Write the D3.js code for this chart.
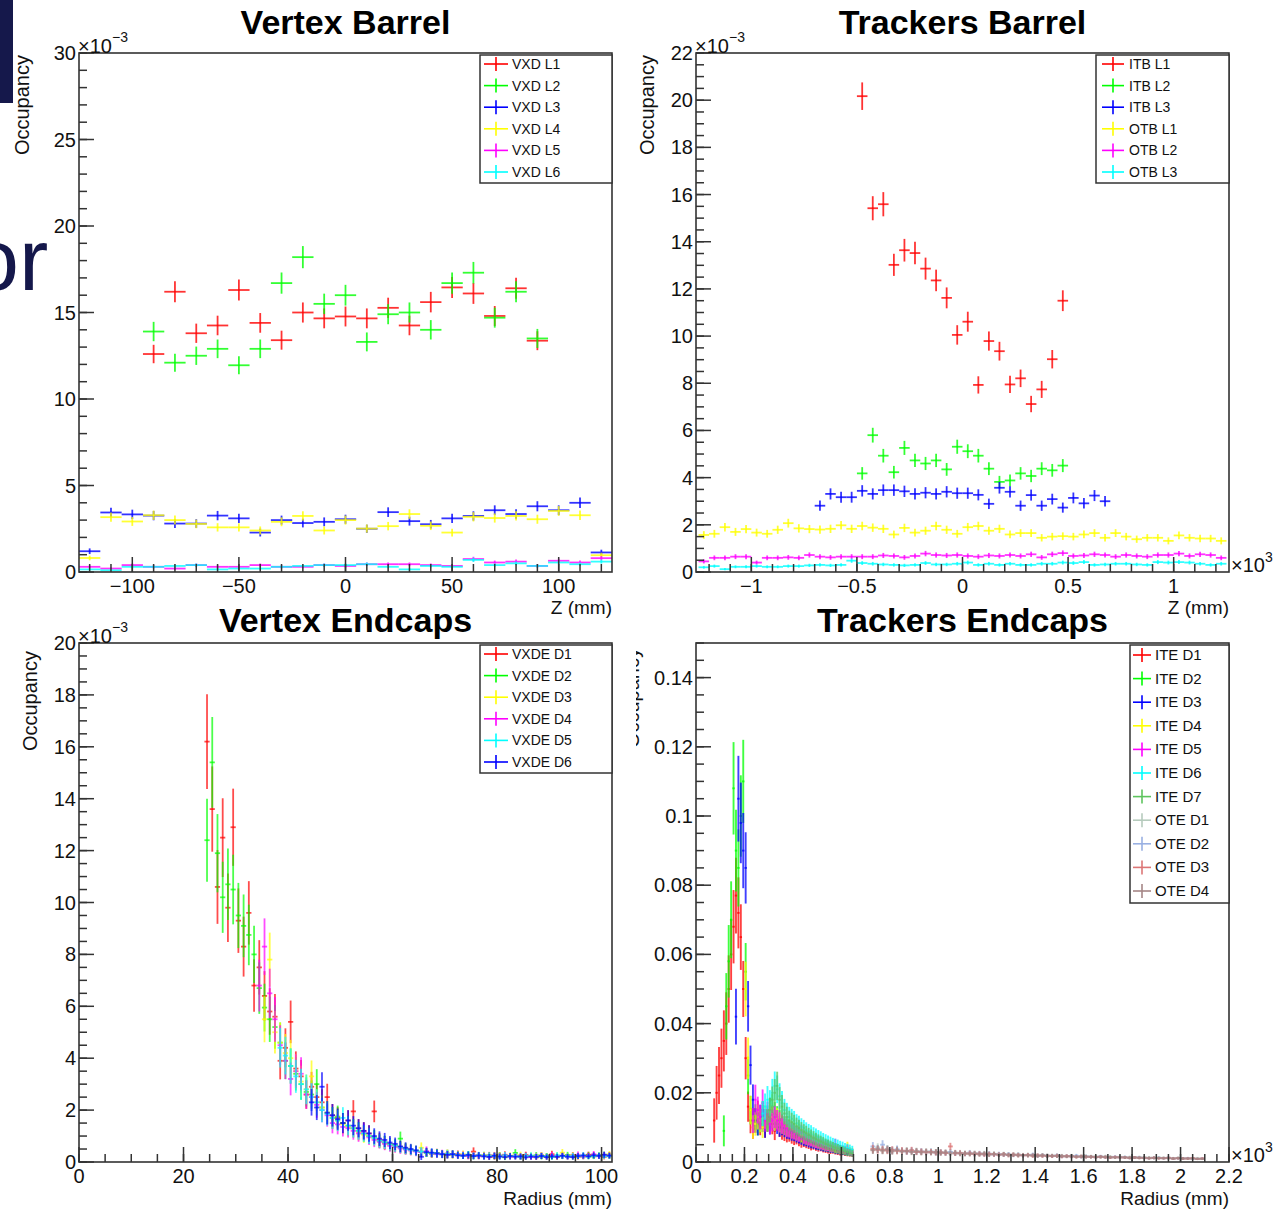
<!DOCTYPE html>
<html>
<head>
<meta charset="UTF-8">
<script src="https://d3js.org/d3.v7.min.js"></script>
<title>Occupancy</title>
<style>
  body { margin: 0; background: #fff; }
  svg { display: block; font-family: "Liberation Sans", Arial, Helvetica, sans-serif; }
</style>
</head>
<body>
<svg id="fig" width="1274" height="1210"></svg>
<script>
// ---------------- data ----------------
var rootColors = ["#ff0000", "#00ff00", "#0000ff", "#ffff00", "#ff00ff", "#00ffff"];

// Vertex Barrel (x 1e-3), bins 10 mm
var vxdNames = ["VXD L1", "VXD L2", "VXD L3", "VXD L4", "VXD L5", "VXD L6"];
var vxdZInner = [-90,-80,-70,-60,-50,-40,-30,-20,-10,0,10,20,30,40,50,60,70,80,90];
var vxdZOuter = [-120,-110,-100,-90,-80,-70,-60,-50,-40,-30,-20,-10,0,10,20,30,40,50,60,70,80,90,100,110,120];
var vxdL1 = [12.6,16.2,13.8,14.25,16.3,14.4,13.4,15.0,14.66,14.77,14.66,15.27,14.25,15.6,16.45,16.1,14.8,16.4,13.37];
var vxdL2 = [13.9,12.1,12.5,12.9,11.95,12.9,16.7,18.2,15.5,16.0,13.3,14.9,15.0,14.0,16.7,17.3,14.7,16.2,13.5];
var vxdL3 = [1.2,3.44,3.33,3.26,2.8,2.8,3.26,3.1,2.28,3.0,2.83,2.9,3.05,2.5,3.46,2.94,2.76,3.1,3.24,3.57,3.35,3.8,3.57,4.0,1.13];
var vxdL4 = [0.81,3.17,2.92,3.28,3.0,2.78,2.58,2.58,2.4,2.9,3.24,2.4,3.0,2.51,2.65,3.35,2.67,2.28,3.19,3.12,3.24,3.05,3.53,3.28,0.97];
var vxdL5 = [0.3,0.2,0.4,0.3,0.2,0.4,0.3,0.3,0.4,0.3,0.3,0.4,0.35,0.45,0.45,0.45,0.4,0.35,0.75,0.55,0.6,0.35,0.65,0.55,0.8];
var vxdL6 = [0.15,0.1,0.3,0.3,0.35,0.4,0.15,0.2,0.2,0.3,0.35,0.4,0.4,0.45,0.3,0.15,0.35,0.3,0.7,0.4,0.5,0.35,0.55,0.45,0.6];

// Trackers Barrel (x 1e-3), Z in 1e3 mm, bins 0.05
var trkNames = ["ITB L1", "ITB L2", "ITB L3", "OTB L1", "OTB L2", "OTB L3"];
var trkStart = [-0.5, -0.5, -0.7, -1.25, -1.25, -1.25];
var trkBin = 0.05;
var itbL1 = [20.17,15.42,15.59,13.02,13.64,13.52,12.86,12.36,11.62,10.05,10.61,7.93,9.79,9.36,7.95,8.21,7.12,7.74,9.02,11.5];
var itbL2 = [4.18,5.8,4.93,4.23,5.26,4.73,4.6,4.73,4.35,5.31,5.12,4.93,4.38,3.82,3.88,4.18,4.07,4.38,4.31,4.51];
var itbL3 = [2.81,3.31,3.17,3.17,3.44,3.31,3.47,3.47,3.42,3.31,3.36,3.31,3.4,3.34,3.34,3.27,2.89,3.57,3.4,2.81,3.26,2.81,3.09,2.73,3.14,2.91,3.24,3.0];
var otbL1 = [1.57,1.62,1.90,1.70,1.82,1.67,1.62,1.79,2.07,1.85,1.82,1.80,1.83,1.98,1.83,1.95,1.88,1.83,1.59,1.87,1.67,1.75,1.95,1.79,1.62,1.90,1.95,1.75,1.83,1.59,1.65,1.65,1.45,1.50,1.52,1.50,1.59,1.65,1.45,1.65,1.50,1.39,1.45,1.45,1.32,1.55,1.45,1.42,1.42,1.32];
var otbL2 = [0.45,0.6,0.6,0.65,0.65,0.4,0.6,0.6,0.62,0.6,0.72,0.65,0.62,0.65,0.65,0.65,0.65,0.7,0.68,0.62,0.68,0.78,0.72,0.7,0.72,0.68,0.65,0.7,0.68,0.72,0.68,0.75,0.62,0.75,0.8,0.68,0.7,0.75,0.72,0.65,0.72,0.68,0.65,0.72,0.72,0.78,0.68,0.75,0.72,0.6];
var otbL3 = [0.2,0.25,0.12,0.22,0.22,0.25,0.22,0.22,0.25,0.25,0.28,0.3,0.28,0.3,0.48,0.38,0.35,0.32,0.3,0.28,0.3,0.38,0.32,0.32,0.35,0.4,0.3,0.35,0.3,0.35,0.3,0.3,0.35,0.35,0.4,0.38,0.42,0.3,0.32,0.35,0.35,0.32,0.3,0.42,0.4,0.42,0.4,0.35,0.3,0.35];

// Vertex Endcaps (x 1e-3), radius in mm, bins 1 mm
var vxdeNames = ["VXDE D1", "VXDE D2", "VXDE D3", "VXDE D4", "VXDE D5", "VXDE D6"];
var vxdeColors = ["#ff0000", "#00ff00", "#ffff00", "#ff00ff", "#00ffff", "#0000ff"];
var vxdeStart = [24, 24, 35, 34, 38, 44];
var vxdeBin = 1;
var vxdeD1 = [16.2,13.6,10.6,12.5,9.8,12.9,9.3,8.3,9.6,6.8,7.5,6.4,5.8,5.6,3.9,4.4,5.4,3.6,3.3,2.6,2.9,2.5,2.3,2.5,1.8,1.7,1.5,1.6,1.95,1.3,1.2,1.1,1.95,0.85,0.75,0.7,0.62,0.58,0.5,0.46,0.42,0.38,0.36,0.33,0.35,0.3,0.32,0.28,0.3,0.26,0.24,0.4,0.25,0.22,0.26,0.2,0.24,0.28,0.21,0.25,0.2,0.27,0.23,0.18,0.25,0.22,0.3,0.2,0.24,0.21,0.26,0.2,0.23,0.28,0.22,0.25,0.2,0.27];
var vxdeD2 = [12.4,15.4,11.9,10.2,10.7,10.5,9.5,9.1,8.75,8.0,6.7,5.95,5.5,5.2,4.6,3.9,3.7,3.4,3.0,2.7,2.6,3.0,2.1,1.9,1.7,1.75,1.5,1.4,1.3,1.2,1.1,1.0,0.95,0.8,0.75,0.68,0.65,0.9,0.52,0.48,0.44,0.4,0.36,0.32,0.34,0.3,0.28,0.31,0.27,0.25,0.28,0.22,0.24,0.26,0.2,0.23,0.25,0.18,0.22,0.35,0.2,0.24,0.21,0.26,0.2,0.23,0.19,0.25,0.22,0.27,0.2,0.24,0.21,0.26,0.22,0.25,0.28,0.22];
var vxdeD3 = [5.5,7.8,5.0,4.6,4.2,4.0,3.5,3.1,2.8,3.3,2.3,2.1,1.9,1.7,1.6,1.45,1.35,1.3,1.15,1.05,1.0,0.9,0.8,0.72,0.66,0.6,0.55,0.5,0.45,0.42,0.55,0.36,0.34,0.32,0.3,0.33,0.28,0.26,0.3,0.25,0.27,0.23,0.25,0.22,0.26,0.24,0.21,0.25,0.22,0.27,0.2,0.24,0.22,0.26,0.21,0.24,0.2,0.36,0.22,0.25,0.21,0.24,0.2,0.26,0.23,0.25,0.3];
var vxdeD4 = [6.8,8.3,6.5,5.5,4.5,3.9,3.2,3.5,3.4,2.6,2.5,2.2,2.0,1.8,1.5,1.45,1.35,1.3,1.2,1.1,1.15,0.95,0.85,0.78,0.7,0.62,0.58,0.52,0.48,0.44,0.4,0.38,0.42,0.33,0.3,0.32,0.28,0.3,0.25,0.27,0.23,0.26,0.22,0.24,0.2,0.25,0.22,0.26,0.2,0.23,0.21,0.25,0.19,0.22,0.24,0.2,0.26,0.22,0.24,0.2,0.23,0.28,0.21,0.24,0.3,0.22,0.26,0.24];
var vxdeD5 = [4.4,4.1,3.7,3.3,3.0,2.8,2.5,2.3,2.0,1.85,1.7,1.6,1.7,1.4,1.3,1.2,1.1,1.0,0.92,0.82,0.76,0.68,0.62,0.56,0.5,0.46,0.42,0.4,0.36,0.35,0.33,0.3,0.32,0.29,0.27,0.25,0.28,0.24,0.26,0.22,0.25,0.23,0.21,0.26,0.22,0.24,0.2,0.23,0.25,0.21,0.24,0.22,0.2,0.25,0.23,0.21,0.24,0.22,0.26,0.2,0.23,0.25,0.22,0.24];
var vxdeD6 = [2.3,2.1,2.9,1.9,1.8,1.65,1.5,1.6,1.4,1.3,1.2,1.1,1.0,0.9,0.85,0.75,0.7,0.6,0.55,0.5,0.45,0.2,0.38,0.36,0.33,0.3,0.28,0.3,0.26,0.24,0.27,0.23,0.25,0.22,0.2,0.24,0.21,0.19,0.23,0.2,0.22,0.18,0.21,0.2,0.23,0.19,0.22,0.2,0.24,0.21,0.19,0.23,0.25,0.22,0.26,0.24,0.28,0.25];

// Trackers Endcaps, radius in 1e3 mm
var teNames = ["ITE D1","ITE D2","ITE D3","ITE D4","ITE D5","ITE D6","ITE D7","OTE D1","OTE D2","OTE D3","OTE D4"];
var teColors = ["#ff0000","#00ff00","#0000ff","#ffff00","#ff00ff","#00ffff","#5ec45e","#b6cbbd","#99b0e2","#dc7676","#a58686"];
var iteStart = [0.07, 0.11, 0.16, 0.2, 0.23, 0.27, 0.29];
var iteBin = 0.01;
var oteStart = 0.72;
var oteBin = 0.02;
var iteD1 = [0.012,0.02,0.025,0.03,0.035,0.04,0.05,0.06,0.068,0.077,0.072,0.065,0.05,0.03,0.016,0.012,0.01,0.012,0.014,0.011,0.013,0.01,0.012,0.015,0.011,0.009,0.012,0.01,0.009,0.0085,0.008,0.0082,0.0075,0.007,0.0072,0.0065,0.006,0.0062,0.0058,0.0055,0.005,0.0052,0.0048,0.0045,0.0046,0.0042,0.004,0.0038,0.0036,0.0037,0.0034,0.0032,0.003,0.0031,0.0028,0.0027,0.0026,0.0025];
var iteD2 = [0.009,0.045,0.058,0.07,0.108,0.09,0.085,0.1,0.11,0.055,0.025,0.015,0.012,0.013,0.011,0.012,0.014,0.012,0.013,0.015,0.016,0.014,0.013,0.012,0.011,0.0105,0.01,0.0095,0.009,0.0088,0.0082,0.008,0.0075,0.007,0.0068,0.0065,0.006,0.0058,0.0062,0.0052,0.005,0.0048,0.0046,0.0044,0.0042,0.004,0.0038,0.0036,0.0035,0.0033,0.0032,0.003,0.0029,0.0028];
var iteD3 = [0.042,0.105,0.098,0.09,0.085,0.045,0.028,0.018,0.012,0.011,0.013,0.012,0.01,0.012,0.011,0.013,0.012,0.011,0.01,0.0105,0.0098,0.0092,0.009,0.0085,0.0083,0.0078,0.0075,0.007,0.0066,0.0064,0.006,0.0057,0.0055,0.0052,0.005,0.0048,0.0045,0.0044,0.0042,0.004,0.0039,0.0037,0.0035,0.0034,0.0032,0.0031,0.003,0.0029,0.0027];
var iteD4 = [0.05,0.03,0.015,0.01,0.011,0.013,0.012,0.01,0.013,0.012,0.014,0.013,0.012,0.0125,0.0115,0.011,0.0105,0.01,0.0098,0.0093,0.009,0.0086,0.0082,0.0078,0.0074,0.007,0.0068,0.0065,0.0062,0.0058,0.0056,0.0053,0.005,0.0048,0.0046,0.0044,0.0042,0.004,0.0038,0.0036,0.0035,0.0034,0.0045,0.0032,0.003];
var iteD5 = [0.012,0.018,0.015,0.013,0.017,0.012,0.014,0.011,0.012,0.013,0.012,0.0115,0.011,0.0105,0.0098,0.0095,0.009,0.0088,0.0083,0.008,0.0085,0.0072,0.007,0.0066,0.0063,0.006,0.0058,0.0055,0.0052,0.005,0.0048,0.0047,0.0044,0.0042,0.0052,0.0039,0.0037,0.0036,0.0034,0.0038,0.003,0.0028];
var iteD6 = [0.014,0.016,0.018,0.017,0.02,0.022,0.021,0.019,0.017,0.015,0.014,0.013,0.0125,0.012,0.0112,0.0108,0.0102,0.0098,0.0092,0.0088,0.0085,0.008,0.0077,0.0073,0.007,0.0066,0.0063,0.006,0.0057,0.0054,0.0052,0.005,0.0047,0.0045,0.0042,0.004,0.0038,0.0035];
var iteD7 = [0.012,0.015,0.018,0.02,0.022,0.018,0.016,0.014,0.013,0.012,0.0115,0.011,0.0103,0.0098,0.0092,0.0087,0.0083,0.0078,0.0074,0.007,0.0066,0.0062,0.0059,0.0056,0.0052,0.005,0.0047,0.0044,0.0041,0.0039,0.0036,0.0034,0.0031,0.0029,0.0027,0.0025];
var oteD1 = [0.0036,0.0042,0.0034,0.0038,0.0033,0.0035,0.0031,0.0033,0.003,0.0032,0.0029,0.003,0.0031,0.0028,0.0029,0.0027,0.0028,0.0026,0.0027,0.0025,0.0026,0.0025,0.0024,0.0025,0.0023,0.0024,0.0022,0.0023,0.0022,0.0021,0.0022,0.002,0.0021,0.002,0.0019,0.002,0.0019,0.0018,0.0019,0.0018,0.0017,0.0018,0.0017,0.0016,0.0017,0.0016,0.0016,0.0015,0.0016,0.0015,0.0014,0.0015,0.0014,0.0014,0.0013,0.0014,0.0013,0.0013,0.0012,0.0013,0.0012,0.0012,0.0011,0.0012,0.0011,0.0011,0.001,0.0011,0.001];
var oteD2 = [0.0045,0.0038,0.005,0.0036,0.0034,0.0037,0.0032,0.003,0.0033,0.0029,0.0031,0.0028,0.003,0.0027,0.0028,0.0026,0.0029,0.0025,0.0026,0.0024,0.0027,0.0023,0.0025,0.0022,0.0024,0.0021,0.0023,0.0021,0.0022,0.002,0.0021,0.0019,0.002,0.0021,0.0018,0.0019,0.0018,0.0017,0.0019,0.0016,0.0017,0.0016,0.0018,0.0015,0.0016,0.0015,0.0014,0.0016,0.0014,0.0013,0.0015,0.0013,0.0014,0.0012,0.0013,0.0013,0.0012,0.0011,0.0012,0.0012,0.0011,0.0012,0.001,0.0011,0.001,0.0011,0.001,0.0009,0.001];
var oteD3 = [0.0038,0.0035,0.0036,0.0033,0.0035,0.0032,0.0033,0.0031,0.0034,0.0029,0.003,0.0028,0.0029,0.0027,0.0028,0.0026,0.0045,0.0025,0.0026,0.0024,0.0025,0.0023,0.0024,0.0022,0.0023,0.0022,0.0021,0.0022,0.002,0.0021,0.002,0.0019,0.002,0.0018,0.0019,0.0018,0.0018,0.0017,0.0018,0.0016,0.0017,0.0016,0.0015,0.0016,0.0015,0.0015,0.0014,0.0015,0.0014,0.0013,0.0014,0.0013,0.0013,0.0012,0.0013,0.0012,0.0012,0.0011,0.0012,0.0011,0.0011,0.0012,0.001,0.0011,0.001,0.001,0.0011,0.0009,0.001];
var oteD4 = [0.0034,0.0037,0.0033,0.0036,0.0031,0.0034,0.003,0.0032,0.0029,0.0031,0.0028,0.003,0.0027,0.0029,0.0026,0.0028,0.0025,0.0027,0.0024,0.0025,0.0023,0.0025,0.0022,0.0024,0.0021,0.0023,0.0021,0.0022,0.002,0.0021,0.0019,0.002,0.0019,0.0019,0.0018,0.0019,0.0017,0.0018,0.0017,0.0017,0.0016,0.0017,0.0015,0.0016,0.0015,0.0015,0.0014,0.0015,0.0014,0.0014,0.0013,0.0014,0.0013,0.0012,0.0013,0.0012,0.0012,0.0011,0.0012,0.0011,0.0011,0.0011,0.001,0.0011,0.001,0.001,0.001,0.0009,0.0009];

// tick labels
var vxdXTicks = [-100, -50, 0, 50, 100];
var vxdYTicks = [0, 5, 10, 15, 20, 25, 30];
var trkXTicks = [-1, -0.5, 0, 0.5, 1];
var trkYTicks = [0, 2, 4, 6, 8, 10, 12, 14, 16, 18, 20, 22];
var vxdeXTicks = [0, 20, 40, 60, 80, 100];
var vxdeYTicks = [0, 2, 4, 6, 8, 10, 12, 14, 16, 18, 20];
var teXTicks = [0, 0.2, 0.4, 0.6, 0.8, 1, 1.2, 1.4, 1.6, 1.8, 2, 2.2];
var teYTicks = [0, 0.02, 0.04, 0.06, 0.08, 0.1, 0.12, 0.14];

// ---------------- drawing ----------------
var svg = d3.select("#fig");
var defs = svg.append("defs");
var FRAME = "#333";

function centers(start, w, n) {
  return d3.range(n).map(function (i) { return start + (i + 0.5) * w; });
}
function fmt(v) {
  return String(Math.round(v * 1000) / 1000).replace("-", "\u2212");
}
function minorTicks(lo, hi, step) {
  var a = Math.ceil(lo / step - 1e-6), b = Math.floor(hi / step + 1e-6);
  return d3.range(a, b + 1).map(function (k) { return k * step; });
}

// slide remnants on the left edge
svg.append("rect").attr("x", 0).attr("y", 0).attr("width", 13).attr("height", 103).attr("fill", "#15184b");
svg.append("text").attr("x", -30).attr("y", 290).attr("font-size", 88).attr("fill", "#15184b").text("or");

function drawPanel(p) {
  var x = d3.scaleLinear().domain(p.xDomain).range([p.left, p.right]);
  var y = d3.scaleLinear().domain(p.yDomain).range([p.bottom, p.top]);
  var g = svg.append("g");

  defs.append("clipPath").attr("id", "clip-" + p.id).append("rect")
    .attr("x", p.left).attr("y", p.top)
    .attr("width", p.right - p.left).attr("height", p.bottom - p.top);

  // histograms with error bars
  var plot = g.append("g").attr("clip-path", "url(#clip-" + p.id + ")");
  p.series.forEach(function (s) {
    var pts = s.values.map(function (v, i) {
      return { c: s.x[i], v: v, e: p.err(v, s.x[i]) };
    });
    var sg = plot.append("g")
      .attr("stroke", s.color)
      .attr("stroke-width", p.lw)
      .attr("stroke-opacity", p.op);
    sg.selectAll(null).data(pts).enter().append("line")
      .attr("x1", function (d) { return x(d.c - s.w / 2); })
      .attr("x2", function (d) { return x(d.c + s.w / 2); })
      .attr("y1", function (d) { return y(d.v); })
      .attr("y2", function (d) { return y(d.v); });
    sg.selectAll(null).data(pts).enter().append("line")
      .attr("x1", function (d) { return x(d.c); })
      .attr("x2", function (d) { return x(d.c); })
      .attr("y1", function (d) { return y(d.v - d.e); })
      .attr("y2", function (d) { return y(d.v + d.e); });
  });

  // frame
  g.append("rect")
    .attr("x", p.left).attr("y", p.top)
    .attr("width", p.right - p.left).attr("height", p.bottom - p.top)
    .attr("fill", "none").attr("stroke", FRAME).attr("stroke-width", 1.6);

  // ticks (ROOT style: inside, left and bottom only)
  var tg = g.append("g").attr("stroke", FRAME).attr("stroke-width", 1.5);
  tg.selectAll(null).data(minorTicks(p.yDomain[0], p.yDomain[1], p.yMinor)).enter().append("line")
    .attr("x1", p.left).attr("x2", p.left + 8)
    .attr("y1", function (d) { return y(d); }).attr("y2", function (d) { return y(d); });
  tg.selectAll(null).data(p.yTicks).enter().append("line")
    .attr("x1", p.left).attr("x2", p.left + 15)
    .attr("y1", function (d) { return y(d); }).attr("y2", function (d) { return y(d); });
  tg.selectAll(null).data(minorTicks(p.xDomain[0], p.xDomain[1], p.xMinor)).enter().append("line")
    .attr("y1", p.bottom).attr("y2", p.bottom - 8)
    .attr("x1", function (d) { return x(d); }).attr("x2", function (d) { return x(d); });
  tg.selectAll(null).data(p.xTicks).enter().append("line")
    .attr("y1", p.bottom).attr("y2", p.bottom - 15)
    .attr("x1", function (d) { return x(d); }).attr("x2", function (d) { return x(d); });

  // tick labels
  g.selectAll(null).data(p.yTicks).enter().append("text")
    .attr("x", p.left - 3).attr("y", function (d) { return y(d) + 7; })
    .attr("text-anchor", "end").attr("font-size", 20).attr("fill", "#111")
    .text(fmt);
  g.selectAll(null).data(p.xTicks).enter().append("text")
    .attr("x", function (d) { return x(d); }).attr("y", p.bottom + 21)
    .attr("text-anchor", "middle").attr("font-size", 20).attr("fill", "#111")
    .text(fmt);

  // exponents
  if (p.yExp) {
    g.append("text").attr("x", p.left - 1).attr("y", p.top).attr("font-size", 20).attr("fill", "#111").text("\u00d710");
    g.append("text").attr("x", p.left + 33).attr("y", p.top - 11).attr("font-size", 14).attr("fill", "#111").text(p.yExp);
  }
  if (p.xExp) {
    g.append("text").attr("x", p.right + 2).attr("y", p.bottom).attr("font-size", 20).attr("fill", "#111").text("\u00d710");
    g.append("text").attr("x", p.right + 36).attr("y", p.bottom - 10).attr("font-size", 14).attr("fill", "#111").text(p.xExp);
  }

  // title and axis titles
  g.append("text").attr("x", (p.left + p.right) / 2).attr("y", p.titleY)
    .attr("text-anchor", "middle").attr("font-size", 34).attr("font-weight", "bold").attr("fill", "#000")
    .text(p.title);
  g.append("text").attr("x", p.right).attr("y", p.xTitleY)
    .attr("text-anchor", "end").attr("font-size", 19).attr("fill", "#111").text(p.xTitle);
  var yt = g.append("g");
  if (p.yTitleClip != null) {
    defs.append("clipPath").attr("id", "yclip-" + p.id).append("rect")
      .attr("x", p.yTitleClip).attr("y", p.top - 10).attr("width", 80).attr("height", 200);
    yt.attr("clip-path", "url(#yclip-" + p.id + ")");
  }
  yt.append("text")
    .attr("transform", "translate(" + p.yTitleX + "," + p.yTitleTop + ") rotate(-90)")
    .attr("text-anchor", "end").attr("font-size", 20).attr("fill", "#111").text("Occupancy");

  // legend
  var L = p.legend;
  var lg = g.append("g");
  lg.append("rect").attr("x", L.x0).attr("y", L.y0)
    .attr("width", p.right - L.x0).attr("height", L.y1 - L.y0)
    .attr("fill", "#fff").attr("stroke", FRAME).attr("stroke-width", 1.5);
  var rows = lg.selectAll(null).data(p.series).enter().append("g")
    .attr("transform", function (d, i) { return "translate(0," + (L.row0 + i * L.dy) + ")"; });
  rows.append("line").attr("x1", L.mx - L.mw).attr("x2", L.mx + L.mw).attr("y1", 0).attr("y2", 0)
    .attr("stroke", function (d) { return d.color; }).attr("stroke-width", 1.6);
  rows.append("line").attr("x1", L.mx).attr("x2", L.mx).attr("y1", -7).attr("y2", 7)
    .attr("stroke", function (d) { return d.color; }).attr("stroke-width", 1.6);
  rows.append("text").attr("x", L.tx).attr("y", 5).attr("font-size", L.font).attr("fill", "#111")
    .text(function (d) { return d.name; });
}

// ---- panel definitions built from the arrays above ----
var vxdValues = [vxdL1, vxdL2, vxdL3, vxdL4, vxdL5, vxdL6];
drawPanel({
  id: "vb", title: "Vertex Barrel", titleY: 34,
  left: 79, right: 612, top: 53, bottom: 572,
  xDomain: [-125, 125], yDomain: [0, 30],
  xTicks: vxdXTicks, xMinor: 10, yTicks: vxdYTicks, yMinor: 1,
  yExp: "\u22123", xTitle: "Z (mm)", xTitleY: 614, yTitleX: 29, yTitleTop: 55,
  lw: 1.8, op: 0.8,
  err: function (v) { return 0.15 * Math.sqrt(v); },
  series: vxdValues.map(function (vals, i) {
    return { name: vxdNames[i], color: rootColors[i], x: i < 2 ? vxdZInner : vxdZOuter, w: 10, values: vals };
  }),
  legend: { x0: 480, y0: 55, y1: 183, mx: 496, mw: 12, tx: 512, row0: 64, dy: 21.6, font: 14 }
});

var trkValues = [itbL1, itbL2, itbL3, otbL1, otbL2, otbL3];
drawPanel({
  id: "tb", title: "Trackers Barrel", titleY: 34,
  left: 696, right: 1229, top: 53, bottom: 572,
  xDomain: [-1.262, 1.262], yDomain: [0, 22],
  xTicks: trkXTicks, xMinor: 0.1, yTicks: trkYTicks, yMinor: 0.5,
  yExp: "\u22123", xExp: "3", xTitle: "Z (mm)", xTitleY: 614, yTitleX: 654, yTitleTop: 55,
  lw: 1.8, op: 0.8,
  err: function (v) { return 0.13 * Math.sqrt(v); },
  series: trkValues.map(function (vals, i) {
    return { name: trkNames[i], color: rootColors[i], x: centers(trkStart[i], trkBin, vals.length), w: trkBin, values: vals };
  }),
  legend: { x0: 1096, y0: 55, y1: 183, mx: 1113, mw: 11, tx: 1129, row0: 64, dy: 21.6, font: 14 }
});

var vxdeValues = [vxdeD1, vxdeD2, vxdeD3, vxdeD4, vxdeD5, vxdeD6];
drawPanel({
  id: "ve", title: "Vertex Endcaps", titleY: 632,
  left: 79, right: 612, top: 643, bottom: 1162,
  xDomain: [0, 102], yDomain: [0, 20],
  xTicks: vxdeXTicks, xMinor: 5, yTicks: vxdeYTicks, yMinor: 0.5,
  yExp: "\u22123", xTitle: "Radius (mm)", xTitleY: 1205, yTitleX: 37, yTitleTop: 651,
  lw: 1.8, op: 0.7,
  err: function (v, r) { return 2.25 * Math.sqrt(v / r); },
  series: vxdeValues.map(function (vals, i) {
    return { name: vxdeNames[i], color: vxdeColors[i], x: centers(vxdeStart[i], vxdeBin, vals.length), w: vxdeBin, values: vals };
  }),
  legend: { x0: 480, y0: 645, y1: 773, mx: 496, mw: 12, tx: 512, row0: 654, dy: 21.6, font: 14 }
});

var iteValues = [iteD1, iteD2, iteD3, iteD4, iteD5, iteD6, iteD7];
var oteValues = [oteD1, oteD2, oteD3, oteD4];
var teSeries = iteValues.map(function (vals, i) {
  return { name: teNames[i], color: teColors[i], x: centers(iteStart[i], iteBin, vals.length), w: iteBin, values: vals };
}).concat(oteValues.map(function (vals, j) {
  return { name: teNames[7 + j], color: teColors[7 + j], x: centers(oteStart, oteBin, vals.length), w: oteBin, values: vals };
}));
drawPanel({
  id: "te", title: "Trackers Endcaps", titleY: 632,
  left: 696, right: 1229, top: 643, bottom: 1162,
  xDomain: [0, 2.2], yDomain: [0, 0.15],
  xTicks: teXTicks, xMinor: 0.05, yTicks: teYTicks, yMinor: 0.005,
  xExp: "3", xTitle: "Radius (mm)", xTitleY: 1205, yTitleX: 639, yTitleTop: 648, yTitleClip: 636,
  lw: 1.9, op: 0.75,
  err: function (v, r) { return 0.016 * Math.sqrt(v / r); },
  series: teSeries,
  legend: { x0: 1130, y0: 645, y1: 903, mx: 1142, mw: 9, tx: 1155, row0: 655, dy: 23.6, font: 15 }
});
</script>
</body>
</html>
